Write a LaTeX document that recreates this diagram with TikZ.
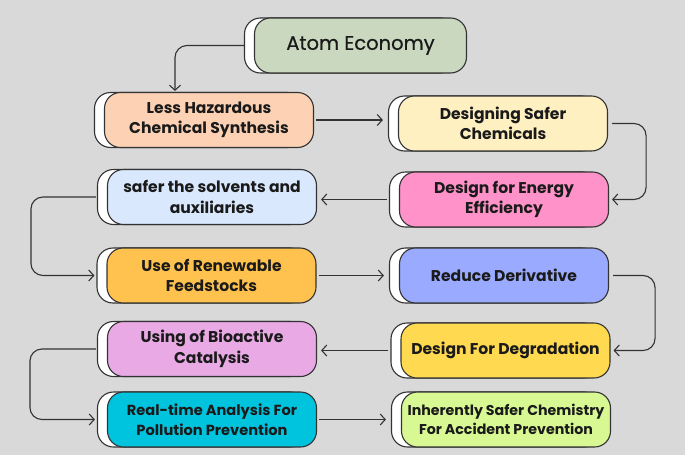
\documentclass[tikz,border=0pt]{standalone}
\usepackage{fontspec}
\setmainfont{Poppins}
\usetikzlibrary{arrows.meta,shadows,calc}
\definecolor{bgc}{HTML}{D9D9D9}
\definecolor{lnc}{HTML}{333333}
\definecolor{txc}{HTML}{1A1A1A}
\definecolor{cAtom}{HTML}{C9D8BF}
\definecolor{cLess}{HTML}{FDD2B4}
\definecolor{cSafer}{HTML}{FFF0C2}
\definecolor{cEnergy}{HTML}{FF92C9}
\definecolor{cSolv}{HTML}{D9E8FC}
\definecolor{cRenew}{HTML}{FFC24E}
\definecolor{cReduce}{HTML}{99AAFF}
\definecolor{cDegr}{HTML}{FFD94F}
\definecolor{cBio}{HTML}{E8A9E5}
\definecolor{cReal}{HTML}{00C3DE}
\definecolor{cInh}{HTML}{D7F893}
\tikzset{
  card/.style={draw=lnc, line width=1.1pt, rounded corners=16pt,
    minimum height=55pt, minimum width=209pt, align=center, text=txc,
    font=\bfseries\fontsize{15.6}{20.5}\selectfont, inner sep=1pt,
    copy shadow={shadow xshift=-10pt, shadow yshift=0pt, fill=white, draw=lnc, line width=1.1pt}},
  conn/.style={draw=lnc, line width=1.1pt, rounded corners=12pt,
    -{Straight Barb[length=5pt,width=11pt,line width=1.1pt]}}
}
\begin{document}
\begin{tikzpicture}[x=1pt,y=-1pt]
\fill[bgc] (0,0) rectangle (685,455);
\useasboundingbox (0,0) rectangle (685,455);
\node[card, fill=cAtom, minimum width=212pt, font=\fontsize{19.5}{22}\selectfont\addfontfeatures{FakeBold=0.6}] (atom) at (360.5,45.5) {Atom Economy};
\node[card, fill=cLess] (less) at (209,120) {Less Hazardous\\Chemical Synthesis};
\node[card, fill=cSafer] (safer) at (503,123.5) {Designing Safer\\Chemicals};
\node[card, fill=cEnergy] (energy) at (504,199.5) {Design for Energy\\Efficiency};
\node[card, fill=cSolv] (solv) at (212,197) {safer the solvents and\\auxiliaries};
\node[card, fill=cRenew] (renew) at (211.5,275.5) {Use of Renewable\\Feedstocks};
\node[card, fill=cReduce] (reduce) at (504,275.5) {Reduce Derivative};
\node[card, fill=cDegr] (degr) at (505.5,350.5) {Design For Degradation};
\node[card, fill=cBio] (bio) at (212,349) {Using of Bioactive\\Catalysis};
\node[card, fill=cReal, font=\bfseries\fontsize{14.6}{20.5}\selectfont] (real) at (212,419.5) {Real-time Analysis For\\Pollution Prevention};
\node[card, fill=cInh, font=\bfseries\fontsize{14.2}{19.5}\selectfont] (inh) at (506,419.5) {Inherently Safer Chemistry\\For Accident Prevention};
% connectors
\draw[conn] ([xshift=-10pt]atom.west) -| ($(less.north)+(-34,-1)$);
\draw[conn] ([xshift=2pt]less.east) -- ($(less.east -| safer.west)+(-15,0)$);
\draw[conn] ([xshift=4pt]safer.east) -- ++(34,0) |- ([xshift=3pt]energy.east);
\draw[conn] ([xshift=-12pt]energy.west) -- ($(energy.west -| solv.east)+(4,0)$);
\draw[conn] ([xshift=-11pt]solv.west) -- ++(-65,0) |- ([xshift=-12pt]renew.west);
\draw[conn] ([xshift=2pt]renew.east) -- ($(renew.east -| reduce.west)+(-15,0)$);
\draw[conn] ([xshift=4pt]reduce.east) -- ++(42,0) |- ([xshift=3pt]degr.east);
\draw[conn] ([xshift=-12pt]degr.west) -- ($(degr.west -| bio.east)+(4,0)$);
\draw[conn] ([xshift=-11pt]bio.west) -- ++(-66,0) |- ([xshift=-12pt]real.west);
\draw[conn] ([xshift=2pt]real.east) -- ($(real.east -| inh.west)+(-15,0)$);
\end{tikzpicture}
\end{document}
